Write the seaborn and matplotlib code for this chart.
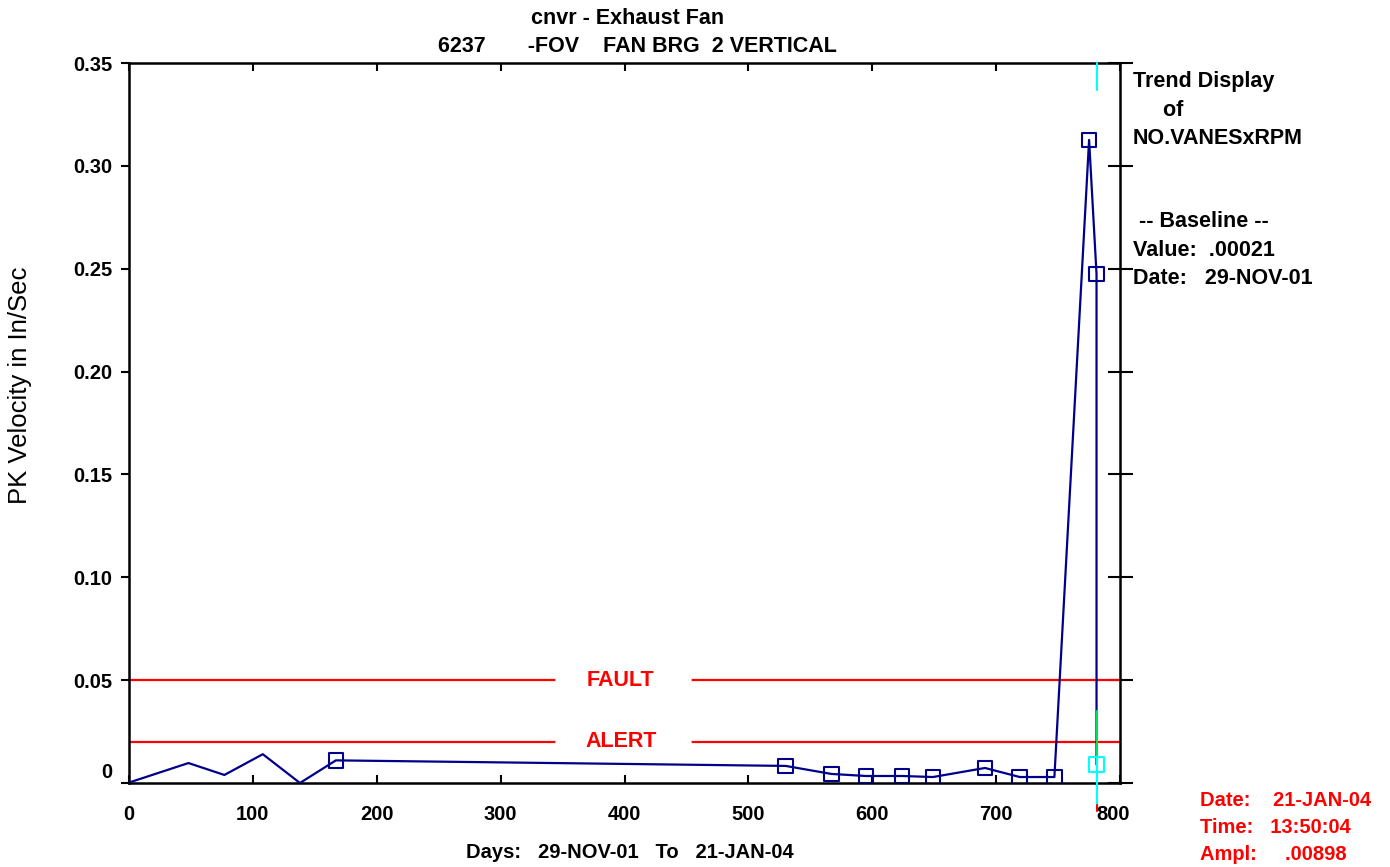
import numpy as np
import pandas as pd
import matplotlib
matplotlib.use("Agg")
import matplotlib.pyplot as plt
import matplotlib.transforms as mtransforms
import seaborn as sns

# trend data (days since 29-NOV-01, PK velocity in/sec)
days = [0, 48, 77, 108, 138, 167, 530, 567, 595, 624, 649, 691, 719, 747, 775, 781, 781]
velocity = [0.0002, 0.0097, 0.0039, 0.0140, 0.0000, 0.0110, 0.0083, 0.0044, 0.0034,
            0.0034, 0.0029, 0.0073, 0.0029, 0.0029, 0.3126, 0.2474, 0.00898]
has_marker = [False, False, False, False, False, True, True, True, True,
              True, True, True, True, True, True, True, False]

cursor_day = 781
cursor_ampl = 0.00898
fault_level = 0.05
alert_level = 0.02

x_ticks = [0, 100, 200, 300, 400, 500, 600, 700, 800]
y_ticks = [0.0, 0.05, 0.10, 0.15, 0.20, 0.25, 0.30, 0.35]
y_tick_labels = ["0", "0.05", "0.10", "0.15", "0.20", "0.25", "0.30", "0.35"]

df = pd.DataFrame({"day": days, "velocity": velocity, "marker": has_marker})

sns.set_style("white")
plt.rcParams["font.family"] = ["Liberation Sans", "DejaVu Sans"]
plt.rcParams["text.color"] = "black"
plt.rcParams["xtick.color"] = "black"
plt.rcParams["ytick.color"] = "black"
plt.rcParams["axes.labelcolor"] = "black"

navy = "#00008b"

fig = plt.figure(figsize=(13.9, 8.67), dpi=100)
ax = fig.add_axes([0.0928, 0.0969, 0.713, 0.8304])

# alarm lines with label gaps
for lvl, name in [(fault_level, "FAULT"), (alert_level, "ALERT")]:
    ax.axhline(lvl, color="red", lw=1.6, zorder=1)
    ax.plot([346, 452], [lvl, lvl], color="white", lw=4, zorder=1.5)
    ax.text(397, lvl, name, color="red", fontsize=15.5, fontweight="bold",
            ha="center", va="center", zorder=2)

sns.lineplot(data=df, x="day", y="velocity", sort=False, estimator=None,
             color=navy, lw=1.6, ax=ax, zorder=3)
sns.scatterplot(data=df[df["marker"]], x="day", y="velocity", marker="s",
                s=110, facecolor="none", edgecolor=navy, linewidth=1.5, ax=ax, zorder=4)

# cursor
ax.plot([cursor_day, cursor_day], [0.35, 0.337], color="cyan", lw=1.5, zorder=5, clip_on=False)
ax.plot([cursor_day, cursor_day], [0.035, 0.0], color="#00e060", lw=1.5, zorder=5)
ax.plot([cursor_day, cursor_day], [0.012, -0.0105], color="cyan", lw=1.5, zorder=5, clip_on=False)
ax.plot([cursor_day, cursor_day], [-0.0105, -0.0135], color="red", lw=1.5, zorder=5, clip_on=False)
ax.scatter([cursor_day], [cursor_ampl], marker="s", s=110, facecolor="none",
           edgecolor="cyan", linewidth=1.5, zorder=6)

ax.set_xlim(0, 800)
ax.set_ylim(0, 0.35)
ax.set_xticks(x_ticks)
ax.set_xticklabels([str(v) for v in x_ticks])
ax.set_yticks(y_ticks)
ax.set_yticklabels(y_tick_labels)

ax.tick_params(axis="x", direction="in", length=6, width=1.5, top=True, bottom=True, pad=16,
               colors="black")
ax.tick_params(axis="y", direction="out", length=6, width=1.5, left=True, pad=6, colors="black")
ax.tick_params(axis="y", which="both", right=True)
for t in ax.yaxis.get_major_ticks():
    t.tick2line.set_marker("_")
    t.tick2line.set_markersize(18)
    t.tick2line.set_markeredgewidth(1.5)
for lab in ax.get_xticklabels() + ax.get_yticklabels():
    lab.set_fontweight("bold")
    lab.set_fontsize(14.5)

# "0" sits a little above the baseline on the original display
zero_lab = ax.yaxis.get_major_ticks()[0].label1
zero_lab.set_transform(zero_lab.get_transform() +
                       mtransforms.ScaledTranslation(0, 12 / 100, fig.dpi_scale_trans))
last_lab = ax.xaxis.get_major_ticks()[-1].label1
last_lab.set_transform(last_lab.get_transform() +
                       mtransforms.ScaledTranslation(-7 / 100, 0, fig.dpi_scale_trans))

for s in ax.spines.values():
    s.set_color("black")
    s.set_linewidth(1.8)

ax.set_xlabel("")
ax.set_ylabel("")
fig.text(630 / 1390, 1 - 852 / 867, "Days:   29-NOV-01   To   21-JAN-04", fontsize=14.5,
         fontweight="bold", ha="center", va="center")
fig.text(20 / 1390, 1 - 385 / 867, "PK Velocity in In/Sec", fontsize=18.5,
         rotation=90, ha="center", va="center")

fig.text(628 / 1390, 1 - 18 / 867, "cnvr - Exhaust Fan", fontsize=15.5, fontweight="bold",
         ha="center", va="center")
fig.text(637 / 1390, 1 - 46 / 867, "6237       -FOV    FAN BRG  2 VERTICAL", fontsize=15.5,
         fontweight="bold", ha="center", va="center")

side = ["Trend Display", "     of", "NO.VANESxRPM", "", "", " -- Baseline --",
        "Value:  .00021", "Date:   29-NOV-01"]
for i, line in enumerate(side):
    fig.text(1133 / 1390, 1 - (82 + 28 * i) / 867, line, fontsize=15.5, fontweight="bold",
             ha="left", va="center")

status = ["Date:    21-JAN-04", "Time:   13:50:04", "Ampl:     .00898"]
for i, line in enumerate(status):
    fig.text(1200 / 1390, 1 - (800 + 27.5 * i) / 867, line, fontsize=14.5, fontweight="bold",
             color="red", ha="left", va="center")

fig.savefig("out.png", dpi=100)
